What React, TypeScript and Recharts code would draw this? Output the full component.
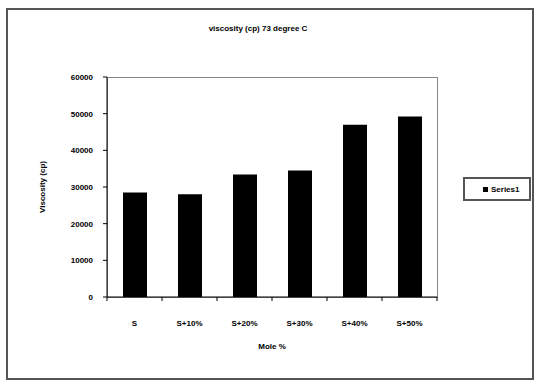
import React from "react";
import { BarChart, Bar, XAxis, YAxis, Legend } from "recharts";

const categories = ["S", "S+10%", "S+20%", "S+30%", "S+40%", "S+50%"];
const viscosity = [28500, 28000, 33400, 34500, 47000, 49200];
const yTicks = [0, 10000, 20000, 30000, 40000, 50000, 60000];
const seriesName = "Series1";
const title = "viscosity (cp) 73 degree C";
const xTitle = "Mole %";
const yTitle = "Viscosity (cp)";

const data = categories.map((c, i) => ({ name: c, v: viscosity[i] }));

const FONT = "'Liberation Sans', Arial, sans-serif";

const XTick = (props: any) => {
  const { x, y, payload, index } = props;
  const off = payload.offset || 0;
  const last = index === categories.length - 1;
  return (
    <g>
      <line x1={x - off} y1={y} x2={x - off} y2={y + 4} stroke="#000" />
      {last && <line x1={x + off} y1={y} x2={x + off} y2={y + 4} stroke="#000" />}
      <text x={x} y={y + 29} textAnchor="middle" fontSize={8} fontWeight="bold" fontFamily={FONT} fill="#000">
        {payload.value}
      </text>
    </g>
  );
};

const LegendBox = (props: any) => {
  const p = (props.payload || [])[0];
  return (
    <div style={{ border: "2px solid #555", width: 68, height: 24, boxSizing: "border-box", display: "flex", alignItems: "center", paddingLeft: 18, fontFamily: FONT, fontSize: 8, fontWeight: "bold" }}>
      <span style={{ display: "inline-block", width: 5, height: 5, background: "#000", marginRight: 3 }} />
      <span>{p ? p.value : ""}</span>
    </div>
  );
};

export default function App() {
  return (
    <div style={{ position: "absolute", left: 0, top: 0, width: 535, height: 383, background: "#fff" }}>
      <div style={{ position: "absolute", left: 6, top: 8, width: 528, height: 372, border: "2px solid #555", boxSizing: "border-box" }} />
      <div style={{ position: "absolute", left: 0, top: 24, width: 516, textAlign: "center", fontFamily: FONT, fontSize: 8, fontWeight: "bold" }}>{title}</div>
      <div style={{ position: "absolute", left: 107, top: 77, width: 331, height: 221, border: "1px solid #888", boxSizing: "border-box" }} />
      <div style={{ position: "absolute", left: 0, top: 0 }}>
        <BarChart width={535} height={383} data={data} margin={{ top: 77, right: 98, bottom: 30, left: 30 }} barSize={24}>
          <XAxis
            dataKey="name"
            tickLine={false}
            tickSize={0}
            tickMargin={0}
            height={56}
            axisLine={{ stroke: "#000" }}
            tick={<XTick />}
            interval={0}
            label={{ value: xTitle, position: "insideBottom", offset: 4, fontSize: 8, fontWeight: "bold", fontFamily: FONT, fill: "#000" }}
          />
          <YAxis
            width={77}
            domain={[0, 60000]}
            ticks={yTicks}
            interval={0}
            tickSize={4}
            tickMargin={10}
            tickLine={{ stroke: "#000" }}
            axisLine={{ stroke: "#000" }}
            tick={{ fontSize: 8, fontWeight: "bold", fontFamily: FONT, fill: "#000" }}
            label={{ value: yTitle, angle: -90, position: "insideLeft", offset: 12, fontSize: 8, fontWeight: "bold", fontFamily: FONT, fill: "#000", style: { textAnchor: "middle" } }}
          />
          <Legend layout="horizontal" verticalAlign="middle" align="center" content={<LegendBox />} wrapperStyle={{ left: 463, top: 177, width: 68, height: 24 }} />
          <Bar dataKey="v" name={seriesName} fill="#000" isAnimationActive={false} />
        </BarChart>
      </div>
    </div>
  );
}
